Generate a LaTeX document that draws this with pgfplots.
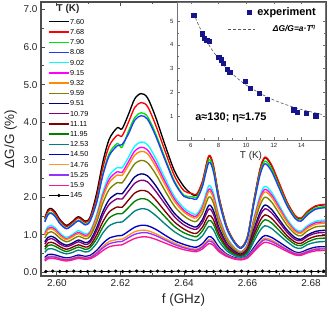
\documentclass[border=0pt]{standalone}
\usepackage{fontspec}
\setmainfont{Liberation Sans}
\usepackage{pgfplots}
\usepackage{pgfplotstable}
\pgfplotsset{compat=1.18}
\definecolor{cA}{RGB}{0,0,0}
\definecolor{cB}{RGB}{255,0,0}
\definecolor{cC}{RGB}{0,230,0}
\definecolor{cD}{RGB}{30,60,255}
\definecolor{cE}{RGB}{0,255,255}
\definecolor{cF}{RGB}{255,0,255}
\definecolor{cG}{RGB}{255,140,0}
\definecolor{cH}{RGB}{128,128,0}
\definecolor{cI}{RGB}{0,0,128}
\definecolor{cJ}{RGB}{128,0,128}
\definecolor{cK}{RGB}{128,0,0}
\definecolor{cL}{RGB}{0,128,0}
\definecolor{cM}{RGB}{0,128,128}
\definecolor{cN}{RGB}{0,0,205}
\definecolor{cO}{RGB}{255,150,30}
\definecolor{cP}{RGB}{150,50,255}
\definecolor{cQ}{RGB}{255,20,147}
\definecolor{expcol}{RGB}{20,20,140}
\pgfplotsset{
  expimg/.style={legend image code/.code={\draw[##1] plot coordinates {(0.75cm,0cm)};}},
  fitimg/.style={legend image code/.code={\draw[##1] (0cm,0cm) -- (0.95cm,0cm);}},
  specimg/.style={legend image code/.code={\draw[mark repeat=2,mark phase=2,##1] plot coordinates {(0cm,0cm) (0.35cm,0cm) (0.7cm,0cm)};}},
}

\pgfplotstableread{
f c1 c2 c3 c4 c5 c6 c7 c8 c9 c10 c11 c12 c13 c14 c15 c16 c17
2.5962 1.45 1.42 1.36 1.34 1.06 1.02 0.99 0.91 0.81 0.75 0.67 0.61 0.53 0.39 0.35 0.33 0.30
2.5972 1.66 1.62 1.56 1.53 1.22 1.17 1.14 1.05 0.93 0.87 0.78 0.71 0.62 0.47 0.42 0.40 0.36
2.5982 1.70 1.66 1.59 1.57 1.25 1.20 1.16 1.08 0.96 0.90 0.80 0.73 0.63 0.48 0.43 0.41 0.37
2.5995 1.60 1.56 1.50 1.48 1.18 1.14 1.10 1.02 0.91 0.85 0.76 0.69 0.60 0.46 0.42 0.40 0.36
2.6010 1.40 1.37 1.31 1.29 1.04 1.00 0.97 0.90 0.80 0.75 0.68 0.62 0.54 0.42 0.38 0.36 0.33
2.6030 1.25 1.22 1.17 1.16 0.93 0.89 0.87 0.81 0.72 0.68 0.61 0.55 0.49 0.38 0.35 0.33 0.30
2.6050 1.36 1.33 1.28 1.26 1.01 0.98 0.95 0.88 0.78 0.74 0.67 0.61 0.53 0.41 0.38 0.36 0.33
2.6068 1.48 1.45 1.39 1.37 1.11 1.06 1.03 0.96 0.86 0.81 0.73 0.67 0.59 0.46 0.42 0.40 0.37
2.6090 1.36 1.33 1.28 1.26 1.02 0.98 0.95 0.89 0.79 0.74 0.67 0.61 0.54 0.42 0.39 0.37 0.34
2.6105 1.48 1.45 1.39 1.37 1.10 1.06 1.03 0.96 0.85 0.80 0.72 0.66 0.58 0.45 0.41 0.39 0.36
2.6125 2.10 2.00 1.88 1.85 1.54 1.48 1.44 1.33 1.18 1.10 0.99 0.89 0.77 0.58 0.53 0.50 0.45
2.6145 2.95 2.80 2.63 2.59 2.15 2.06 2.00 1.85 1.62 1.52 1.35 1.21 1.05 0.77 0.69 0.65 0.58
2.6165 3.55 3.37 3.17 3.11 2.58 2.48 2.39 2.21 1.94 1.81 1.61 1.45 1.24 0.91 0.82 0.76 0.68
2.6190 3.85 3.65 3.43 3.37 2.79 2.68 2.59 2.39 2.10 1.96 1.74 1.56 1.33 0.97 0.87 0.81 0.72
2.6205 3.82 3.63 3.33 3.40 2.78 2.66 2.58 2.38 2.09 1.95 1.73 1.56 1.34 0.98 0.88 0.82 0.73
2.6225 4.20 3.99 3.75 3.68 3.06 2.94 2.84 2.63 2.31 2.16 1.92 1.72 1.48 1.09 0.98 0.92 0.82
2.6245 4.62 4.39 4.12 4.05 3.36 3.23 3.12 2.89 2.54 2.37 2.11 1.89 1.63 1.20 1.08 1.01 0.90
2.6265 4.76 4.52 4.25 4.17 3.47 3.33 3.22 2.98 2.62 2.45 2.18 1.96 1.69 1.25 1.12 1.05 0.94
2.6285 4.65 4.42 4.15 4.08 3.40 3.26 3.16 2.92 2.57 2.41 2.15 1.93 1.67 1.24 1.11 1.05 0.94
2.6310 4.15 3.94 3.71 3.65 3.05 2.93 2.83 2.63 2.32 2.17 1.94 1.75 1.52 1.15 1.03 0.98 0.88
2.6340 3.40 3.24 3.05 3.00 2.51 2.42 2.34 2.18 1.93 1.82 1.63 1.48 1.29 0.99 0.90 0.86 0.78
2.6370 2.70 2.57 2.43 2.39 2.02 1.95 1.89 1.76 1.57 1.48 1.34 1.22 1.08 0.84 0.78 0.74 0.68
2.6400 2.28 2.17 2.05 2.02 1.71 1.65 1.60 1.50 1.34 1.26 1.15 1.05 0.93 0.74 0.68 0.65 0.60
2.6425 2.08 2.10 2.02 1.97 1.57 1.51 1.47 1.37 1.23 1.16 1.05 0.97 0.86 0.68 0.63 0.60 0.56
2.6440 2.06 2.08 2.00 1.95 1.55 1.50 1.45 1.36 1.21 1.15 1.04 0.95 0.85 0.67 0.62 0.59 0.55
2.6458 2.40 2.42 2.33 2.28 1.80 1.73 1.68 1.57 1.40 1.32 1.20 1.10 0.97 0.76 0.70 0.67 0.62
2.6478 3.08 3.10 2.99 2.92 2.30 2.21 2.15 2.00 1.78 1.68 1.51 1.38 1.22 0.95 0.87 0.83 0.76
2.6492 2.85 2.87 2.77 2.70 2.13 2.05 1.99 1.86 1.66 1.56 1.41 1.29 1.14 0.89 0.82 0.78 0.72
2.6510 2.00 2.01 1.94 1.90 1.51 1.46 1.42 1.32 1.19 1.12 1.02 0.94 0.83 0.67 0.62 0.59 0.55
2.6535 1.20 1.21 1.17 1.15 0.94 0.91 0.89 0.84 0.76 0.73 0.67 0.63 0.57 0.48 0.46 0.44 0.42
2.6560 0.80 0.80 0.78 0.77 0.65 0.63 0.62 0.59 0.55 0.53 0.50 0.47 0.44 0.39 0.37 0.36 0.35
2.6580 0.66 0.66 0.65 0.64 0.55 0.54 0.53 0.51 0.48 0.46 0.44 0.42 0.40 0.36 0.35 0.34 0.33
2.6600 0.95 0.96 0.93 0.91 0.76 0.74 0.72 0.68 0.63 0.61 0.57 0.53 0.49 0.43 0.41 0.40 0.38
2.6620 1.90 1.91 1.85 1.81 1.44 1.40 1.36 1.27 1.14 1.08 0.99 0.91 0.82 0.66 0.61 0.59 0.55
2.6640 2.75 2.77 2.67 2.61 2.06 1.99 1.93 1.80 1.61 1.52 1.38 1.26 1.12 0.88 0.82 0.78 0.72
2.6655 3.05 3.07 2.96 2.89 2.29 2.21 2.14 2.00 1.79 1.69 1.53 1.40 1.24 0.98 0.91 0.87 0.80
2.6675 2.85 2.87 2.77 2.70 2.14 2.07 2.01 1.88 1.68 1.59 1.44 1.32 1.17 0.93 0.86 0.82 0.76
2.6700 2.35 2.37 2.28 2.23 1.78 1.72 1.67 1.56 1.40 1.33 1.21 1.11 0.99 0.80 0.74 0.71 0.66
2.6725 1.85 1.86 1.80 1.76 1.41 1.36 1.33 1.24 1.12 1.06 0.97 0.90 0.81 0.66 0.61 0.59 0.55
2.6750 1.50 1.51 1.46 1.43 1.15 1.11 1.08 1.02 0.92 0.87 0.80 0.74 0.66 0.54 0.51 0.49 0.46
2.6768 1.43 1.44 1.39 1.36 1.10 1.06 1.04 0.97 0.88 0.84 0.77 0.71 0.64 0.53 0.50 0.48 0.45
2.6790 1.62 1.63 1.58 1.54 1.25 1.21 1.18 1.11 1.00 0.96 0.88 0.81 0.74 0.61 0.57 0.55 0.52
2.6815 1.76 1.77 1.71 1.68 1.36 1.32 1.28 1.21 1.09 1.04 0.96 0.89 0.80 0.67 0.63 0.61 0.57
2.6844 1.80 1.81 1.75 1.72 1.39 1.34 1.31 1.23 1.12 1.06 0.98 0.91 0.82 0.68 0.64 0.62 0.58
}\spectra

\pgfplotstableread{
f v
2.5965 0.02
2.5987 0.03
2.6009 0.02
2.6031 0.02
2.6053 0.03
2.6075 0.02
2.6097 0.02
2.6119 0.03
2.6141 0.02
2.6163 0.02
2.6185 0.03
2.6207 0.02
2.6229 0.02
2.6251 0.03
2.6273 0.02
2.6295 0.02
2.6317 0.03
2.6339 0.02
2.6361 0.02
2.6383 0.03
2.6405 0.02
2.6427 0.02
2.6449 0.03
2.6471 0.02
2.6493 0.02
2.6515 0.03
2.6537 0.02
2.6559 0.02
2.6581 0.03
2.6603 0.02
2.6625 0.02
2.6647 0.03
2.6669 0.02
2.6691 0.02
2.6713 0.03
2.6735 0.02
2.6757 0.02
2.6779 0.03
2.6801 0.02
2.6823 0.02
2.6840 0.03
}\refline

\pgfplotstableread{
T v
6.22 5.25
6.82 4.46
6.95 4.27
7.14 4.20
7.31 4.14
8.01 3.47
8.18 3.37
8.35 3.23
8.64 2.97
8.81 2.85
9.93 2.46
10.27 2.17
10.95 1.96
11.50 1.71
13.44 1.27
13.71 1.17
14.34 1.12
15.04 1.02
}\expdata

\pgfplotstableread{
T v
6.2 5.34
6.5 4.91
7.0 4.31
7.5 3.82
8.0 3.42
8.5 3.07
9.0 2.78
9.5 2.53
10.0 2.31
11.0 1.96
12.0 1.68
13.0 1.46
14.0 1.28
15.0 1.14
15.5 1.07
}\fitdata

\begin{document}
\begin{tikzpicture}
\begin{axis}[name=main, scale only axis, width=285bp, height=274bp,
  xmin=2.595, xmax=2.6847, ymin=-0.1, ymax=7.2,
  xtick={2.60,2.62,2.64,2.66,2.68}, ytick={0,1,2,3,4,5,6,7},
  minor x tick num=1, minor y tick num=1,
  scaled x ticks=false, scaled y ticks=false,
  xticklabel style={/pgf/number format/.cd,fixed,fixed zerofill,precision=2,/tikz/.cd},
  yticklabel style={/pgf/number format/.cd,fixed,fixed zerofill,precision=1,/tikz/.cd},
  /pgf/number format/assume math mode=true,
  tick label style={font=\fontsize{10}{10}\selectfont, text=black!85},
  xlabel={f (GHz)}, ylabel={ΔG/G (\%)},
  label style={font=\fontsize{13.5}{14}\selectfont, text=black!85},
  axis line style={black!70, line width=1.2pt},
  tick style={black!70, line width=0.8pt},
  major tick length=4bp, minor tick length=2.5bp,
  legend style={at={(axis description cs:0.025,0.94)}, anchor=north west,
    draw=none, fill=none, font=\fontsize{7.3}{7.3}\selectfont, row sep=3.85pt,
    inner sep=0pt, nodes={inner sep=0.6pt, text height=5pt, text depth=0.2pt},
    cells={anchor=west}, /tikz/every even column/.append style={column sep=1pt}},
  specimg,
  every axis plot/.append style={line width=1.35pt, smooth},
]
\addplot[cA] table[x=f,y=c1]{\spectra};
\addplot[cB] table[x=f,y=c2]{\spectra};
\addplot[cC] table[x=f,y=c3]{\spectra};
\addplot[cD] table[x=f,y=c4]{\spectra};
\addplot[cE] table[x=f,y=c5]{\spectra};
\addplot[cF] table[x=f,y=c6]{\spectra};
\addplot[cG] table[x=f,y=c7]{\spectra};
\addplot[cH] table[x=f,y=c8]{\spectra};
\addplot[cI] table[x=f,y=c9]{\spectra};
\addplot[cJ] table[x=f,y=c10]{\spectra};
\addplot[cK] table[x=f,y=c11]{\spectra};
\addplot[cL] table[x=f,y=c12]{\spectra};
\addplot[cM] table[x=f,y=c13]{\spectra};
\addplot[cN] table[x=f,y=c14]{\spectra};
\addplot[cO] table[x=f,y=c15]{\spectra};
\addplot[cP] table[x=f,y=c16]{\spectra};
\addplot[cQ] table[x=f,y=c17]{\spectra};
\addplot[black, line width=0.8pt, mark=*, mark size=1.2pt] table[x=f,y=v]{\refline};
\legend{7.60,7.68,7.90,8.08,9.02,9.15,9.32,9.59,9.51,10.79,11.11,11.95,12.53,14.50,14.76,15.25,15.9,145}
\node[font=\bfseries\fontsize{10}{10}\selectfont, text=black!85] at (axis description cs:0.095,0.976) {T (K)};
\end{axis}

\begin{axis}[at={(main.north east)}, anchor=north east, xshift=-1bp,
  scale only axis, width=148bp, height=138bp,
  xmin=5, xmax=15.7, ymin=0, ymax=5.8,
  xtick={6,8,10,12,14}, ytick={1,2,3,4,5},
  minor x tick num=1, minor y tick num=1,
  /pgf/number format/assume math mode=true,
  tick label style={font=\fontsize{6}{6}\selectfont, text=black!85},
  xlabel={T (K)}, xlabel style={font=\fontsize{10}{10}\selectfont, text=black!85, yshift=3bp},
  axis background/.style={fill=white},
  axis line style={black!55, line width=0.6pt},
  tick style={black!55, line width=0.5pt},
  major tick length=2.5bp, minor tick length=1.5bp,
  legend style={at={(1,1)}, anchor=north east, xshift=-7bp, yshift=-3bp,
    draw=none, fill=none, cells={anchor=east}, row sep=5pt, inner sep=0pt},
]
\addplot[only marks, mark=square*, mark size=2.2pt, color=expcol, expimg] table[x=T,y=v]{\expdata};
\addlegendentry{\fontsize{11}{11}\selectfont\bfseries experiment}
\addplot[densely dashed, black!65, line width=0.6pt, smooth, fitimg] table[x=T,y=v]{\fitdata};
\addlegendentry{\fontsize{8.5}{9}\selectfont\bfseries\itshape ΔG/G=a·T\textsuperscript{η}}
\node[font=\bfseries\fontsize{11}{11}\selectfont] at (axis cs:8.9,0.92) {a≈130; η≈1.75};
\end{axis}
\pgfresetboundingbox
\path[use as bounding box] ([shift={(-41bp,-40bp)}]main.south west) rectangle ([shift={(3bp,2bp)}]main.north east);
\end{tikzpicture}
\end{document}
